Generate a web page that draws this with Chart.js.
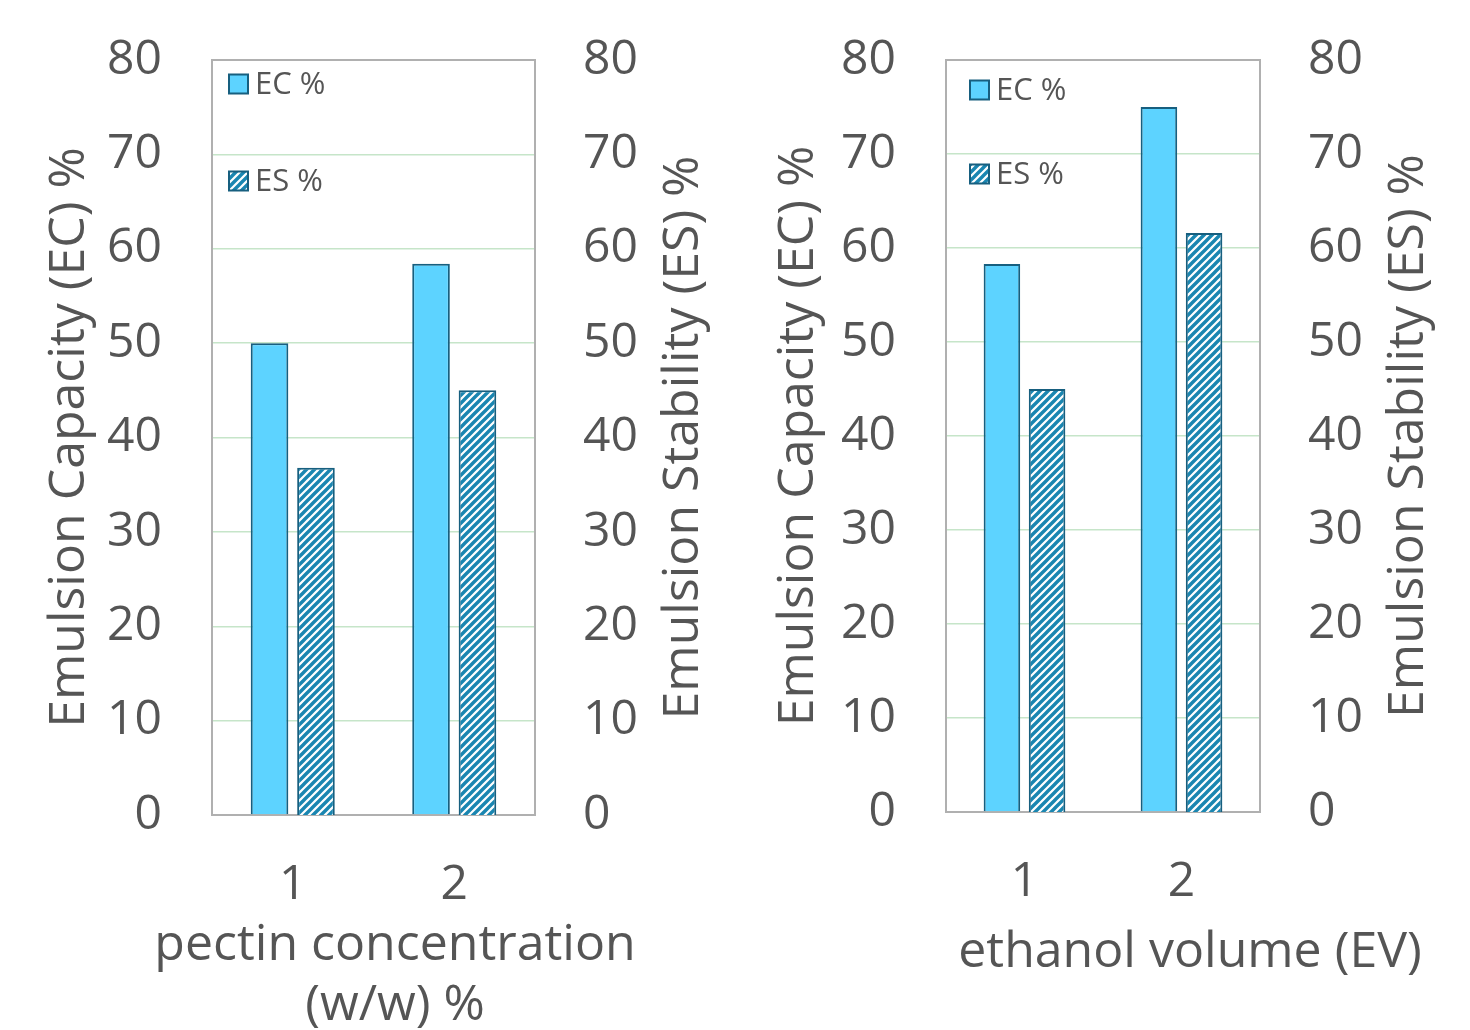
<!DOCTYPE html>
<html>
<head>
<meta charset="utf-8">
<script src="https://cdn.jsdelivr.net/npm/chart.js@4.4.1/dist/chart.umd.min.js"></script>
<style>
  html, body { margin: 0; padding: 0; background: #fff; }
  body { width: 1470px; height: 1030px; position: relative; overflow: hidden; }
  canvas { position: absolute; top: 0; }
  #pectinChart { left: 0; }
  #ethanolChart { left: 735px; }
</style>
</head>
<body>
<canvas id="pectinChart" width="735" height="1030"></canvas>
<canvas id="ethanolChart" width="735" height="1030"></canvas>
<script>
// values
const categories = ['1', '2'];
const pectinEC = [50.0, 58.4];
const pectinES = [36.8, 45.0];
const ethanolEC = [58.3, 75.0];
const ethanolES = [45.0, 61.6];
const yMin = 0, yMax = 80, yStep = 10;

const FONT = "'Open Sans', 'Liberation Sans', sans-serif";
const TEXT = '#555555';
const EC_FILL = '#5dd3ff';
const BAR_EDGE = '#175f7f';
const HATCH = '#1a86b1';
const GRID = '#c6e5c9';
const FRAME = '#b0b0b0';

function hatchPattern(ctx) {
  const c = document.createElement('canvas');
  c.width = 8; c.height = 8;
  const g = c.getContext('2d');
  g.fillStyle = '#fff';
  g.fillRect(0, 0, 8, 8);
  g.strokeStyle = HATCH;
  g.lineWidth = 3.4;
  g.beginPath();
  g.moveTo(-2, 10); g.lineTo(10, -2);
  g.moveTo(-2, 2); g.lineTo(2, -2);
  g.moveTo(6, 10); g.lineTo(10, 6);
  g.stroke();
  return ctx.createPattern(c, 'repeat');
}

// grey box around the plot area
const framePlugin = {
  id: 'frame',
  beforeDatasetsDraw(chart) {
    const { ctx, chartArea: a } = chart;
    ctx.save();
    ctx.strokeStyle = FRAME;
    ctx.lineWidth = 2;
    ctx.strokeRect(a.left, a.top, a.right - a.left, a.bottom - a.top);
    ctx.restore();
  }
};

// legend drawn inside the plot, one entry per row
const innerLegend = {
  id: 'innerLegend',
  afterDraw(chart, args, opts) {
    const { ctx, chartArea: a } = chart;
    ctx.save();
    chart.data.datasets.forEach((ds, i) => {
      const x = a.left + opts.dx;
      const y = a.top + opts.rows[i];
      ctx.fillStyle = ds.backgroundColor;
      ctx.fillRect(x, y - 9.5, 19, 19);
      ctx.strokeStyle = BAR_EDGE;
      ctx.lineWidth = 2;
      ctx.strokeRect(x, y - 9.5, 19, 19);
      ctx.fillStyle = TEXT;
      ctx.font = '31px ' + FONT;
      ctx.textBaseline = 'middle';
      ctx.textAlign = 'left';
      ctx.fillText(ds.label, x + 26, y + 1);
    });
    ctx.restore();
  }
};

// right axis title (reads bottom to top) and the x axis title
const extraTitles = {
  id: 'extraTitles',
  afterDraw(chart, args, opts) {
    const { ctx, chartArea: a } = chart;
    ctx.save();
    ctx.fillStyle = TEXT;
    ctx.font = '50px ' + FONT;
    ctx.textAlign = 'center';
    ctx.textBaseline = 'middle';
    ctx.translate(opts.rightX, (a.top + a.bottom) / 2);
    ctx.rotate(-Math.PI / 2);
    ctx.fillText(opts.rightText, 0, 0);
    ctx.restore();

    ctx.save();
    ctx.fillStyle = TEXT;
    ctx.font = '50px ' + FONT;
    ctx.textAlign = 'center';
    ctx.textBaseline = 'alphabetic';
    opts.xText.forEach((line, i) => ctx.fillText(line, opts.xX, opts.xY[i]));
    ctx.restore();
  }
};

function noEdgePadding(s) {
  s.paddingTop = 0; s.paddingBottom = 0;
  s.paddingLeft = 0; s.paddingRight = 0;
}

function makeChart(id, ec, es, cfg) {
  const ctx = document.getElementById(id).getContext('2d');
  return new Chart(ctx, {
    type: 'bar',
    data: {
      labels: categories,
      datasets: [{
        label: 'EC %',
        data: ec,
        yAxisID: 'y',
        backgroundColor: EC_FILL,
        borderColor: BAR_EDGE,
        borderWidth: 2,
        categoryPercentage: 0.575,
        barPercentage: 0.81
      }, {
        label: 'ES %',
        data: es,
        yAxisID: 'y2',
        backgroundColor: hatchPattern(ctx),
        borderColor: BAR_EDGE,
        borderWidth: 2,
        categoryPercentage: 0.575,
        barPercentage: 0.81
      }]
    },
    options: {
      responsive: false,
      animation: false,
      layout: { padding: { top: cfg.topPad, left: 0, right: 0, bottom: 0 } },
      plugins: {
        legend: { display: false },
        tooltip: { enabled: false },
        innerLegend: cfg.legend,
        extraTitles: cfg.titles
      },
      scales: {
        x: {
          grid: { display: false },
          border: { display: false },
          ticks: { color: TEXT, font: { family: FONT, size: 48 }, padding: 34 },
          afterFit(s) { s.height = cfg.bottomH; noEdgePadding(s); }
        },
        y: {
          position: 'left',
          min: yMin, max: yMax,
          ticks: { stepSize: yStep, color: TEXT, font: { family: FONT, size: 48 }, padding: 50 },
          grid: { color: GRID, lineWidth: 1.5, drawTicks: false },
          border: { display: false },
          title: {
            display: true,
            text: 'Emulsion Capacity (EC) %',
            color: TEXT,
            font: { family: FONT, size: 50 },
            padding: { top: cfg.leftTitlePad, bottom: 0 }
          },
          afterFit(s) { s.width = cfg.leftW; noEdgePadding(s); }
        },
        y2: {
          position: 'right',
          min: yMin, max: yMax,
          ticks: { stepSize: yStep, color: TEXT, font: { family: FONT, size: 48 }, padding: 48 },
          grid: { display: false, drawTicks: false },
          border: { display: false },
          afterFit(s) { s.width = cfg.rightW; noEdgePadding(s); }
        }
      }
    },
    plugins: [framePlugin, innerLegend, extraTitles]
  });
}

makeChart('pectinChart', pectinEC, pectinES, {
  topPad: 60, leftW: 212, rightW: 200, bottomH: 215, leftTitlePad: 40,
  legend: { dx: 17, rows: [24, 121] },
  titles: {
    rightText: 'Emulsion Stability (ES) %', rightX: 684,
    xText: ['pectin concentration', '(w/w) %'], xX: 395, xY: [960, 1020]
  }
});

makeChart('ethanolChart', ethanolEC, ethanolES, {
  topPad: 60, leftW: 211, rightW: 210, bottomH: 218, leftTitlePad: 34,
  legend: { dx: 24, rows: [30, 114] },
  titles: {
    rightText: 'Emulsion Stability (ES) %', rightX: 674,
    xText: ['ethanol volume (EV)'], xX: 455, xY: [967]
  }
});
</script>
</body>
</html>
